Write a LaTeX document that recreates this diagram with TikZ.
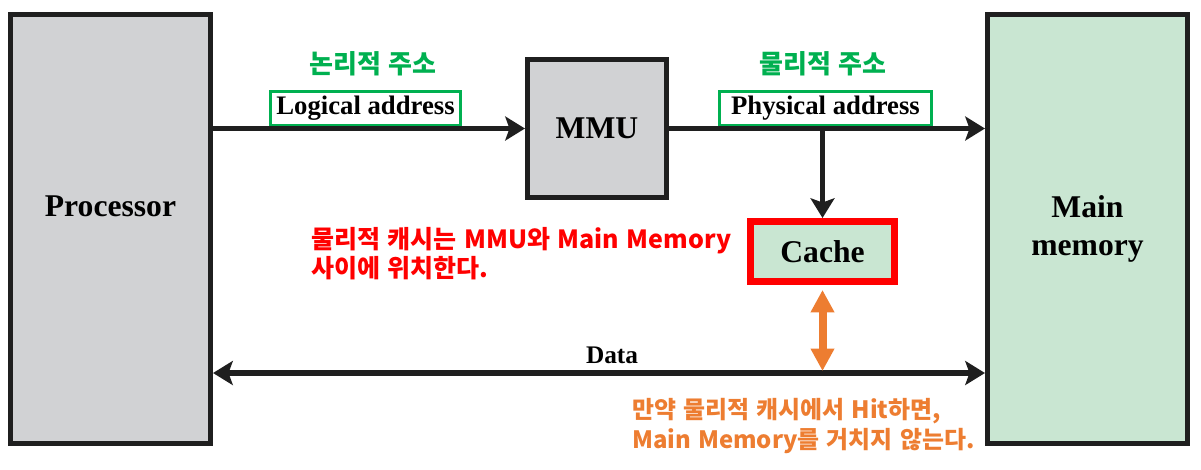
\documentclass[tikz,border=0pt]{standalone}
\usepackage{fontspec}
\setmainfont{Liberation Serif}
\newfontfamily\kr{Noto Sans CJK KR}[WordSpace=1.3]
\usepackage{tikz}
\usetikzlibrary{positioning}
\usetikzlibrary{arrows.meta}
\definecolor{boxgray}{HTML}{D1D2D4}
\definecolor{memgreen}{HTML}{C9E6D2}
\definecolor{labgreen}{HTML}{00B050}
\definecolor{notered}{HTML}{FF0000}
\definecolor{noteorange}{HTML}{ED7D31}
\tikzset{>={Stealth[length=14pt,width=17pt,inset=3pt]}}
\tikzset{
  unit/.style={draw=black!88, line width=3.6pt, inner sep=0pt, align=center,
    font=\bfseries\fontsize{22.5}{27}\selectfont},
  addr/.style={draw=labgreen, line width=2.1pt, fill=white, inner sep=0pt,
    minimum height=8.5mm, font=\bfseries\fontsize{19}{22}\selectfont},
  krlab/.style={text=labgreen, font=\kr\bfseries\fontsize{18.5}{20}\selectfont},
  note/.style={align=left, inner sep=0pt, anchor=north west},
  bus/.style={line width=3.6pt, draw=black!88},
}

\begin{document}
\begin{tikzpicture}[x=0.25mm, y=-0.25mm]
\useasboundingbox (0, 0) rectangle (1201, 469);
% units
\node[unit, fill=boxgray, minimum width=50mm, minimum height=107.25mm] (proc) at (110.5, 229) {Processor\\\phantom{memory}};
\node[unit, fill=boxgray, minimum width=34.75mm, minimum height=34.5mm] (mmu) at (597, 128.5) {MMU};
\node[unit, fill=memgreen, minimum width=50mm, minimum height=107.25mm] (mem) at (1087.5, 229) {Main\\memory};
\node[unit, draw=notered, line width=5pt, fill=memgreen, minimum width=36mm, minimum height=15mm] (cache) at (822.5, 251.5) {Cache};
% address labels
\node[addr, minimum width=47.5mm] (logaddr) at (365.5, 108.5) {Logical address};
\node[addr, minimum width=53mm] (physaddr) at (825.5, 108.5) {Physical address};
\node[krlab] (logkr) at (373, 64) {논리적 주소};
\node[krlab] (physkr) at (823, 64) {물리적 주소};
\node[font=\bfseries\fontsize{18}{20}\selectfont, inner sep=0pt] (data) at (612, 355) {Data};
% notes
\node[note, text=notered, font=\kr\bfseries\fontsize{17.8}{21}\selectfont] (rednote) at (311, 227) {물리적 캐시는 MMU와 Main Memory\\사이에 위치한다.};
\node[note, text=noteorange, font=\kr\bfseries\fontsize{17}{21}\selectfont] (orangenote) at (632, 398) {만약 물리적 캐시에서 Hit하면,\\Main Memory를 거치지 않는다.};
% connectors
\coordinate (datay) at (0, 373);
\coordinate (hit) at (822.5, 371);
\draw[bus, ->] (proc.east |- mmu.west) -- (mmu.west);
\draw[bus, ->] (mmu.east) -- (mem.west |- mmu.east);
\draw[bus, ->] (cache.north |- mmu.east) -- (cache.north);
\draw[bus, <->] (proc.east |- datay) -- (mem.west |- datay);
\draw[draw=noteorange, line width=5.7pt, {Triangle[length=16pt,width=16pt]}-{Triangle[length=16pt,width=16pt]}, shorten <=3.5pt] (cache.south) -- (hit);
\end{tikzpicture}
\end{document}
